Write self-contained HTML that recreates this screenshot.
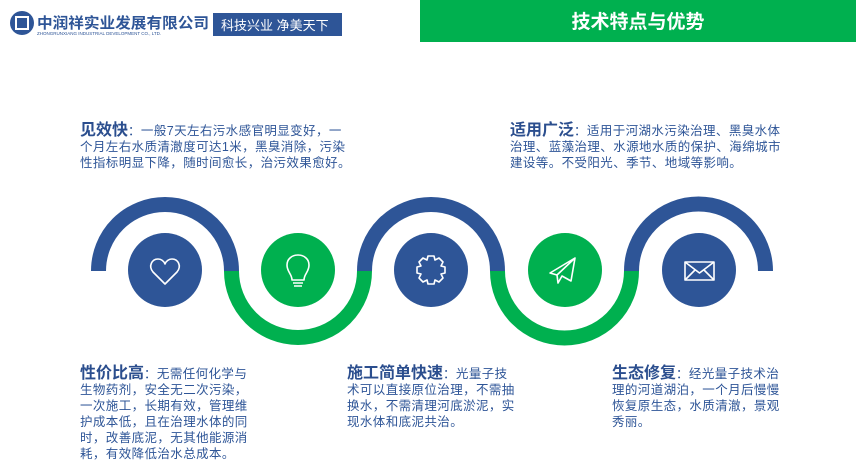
<!DOCTYPE html>
<html><head><meta charset="utf-8"><style>
body{margin:0;width:856px;height:473px;background:#fff;position:relative;overflow:hidden;font-family:"Liberation Sans","Noto Sans CJK SC",sans-serif;color:#2e5597}
.t{position:absolute;font-size:12.5px;letter-spacing:0.4px;line-height:16px;white-space:nowrap}
.t b{font-size:16px;letter-spacing:0;color:#2b4e8e;font-weight:bold}
</style></head><body>
<svg width="856" height="473" style="position:absolute;left:0;top:0">
<circle cx="22" cy="23" r="12" fill="#2e5597"/>
<rect x="16" y="17" width="12" height="12" fill="none" stroke="#fff" stroke-width="2"/>
<text x="37" y="28" font-family="Liberation Sans,Noto Sans CJK SC,sans-serif" font-weight="bold" font-size="15" fill="#2e5597" textLength="172" lengthAdjust="spacingAndGlyphs">中润祥实业发展有限公司</text>
<text x="37" y="35" font-family="Liberation Sans,sans-serif" font-size="4.5" fill="#2e5597">ZHONGRUNXIANG INDUSTRIAL DEVELOPMENT CO., LTD.</text>
<rect x="213" y="13" width="129" height="23" fill="#2e5597"/>
<text x="221" y="30" font-family="Liberation Sans,Noto Sans CJK SC,sans-serif" font-size="13" fill="#fff">科技兴业  净美天下</text>
<rect x="420" y="0" width="436" height="42" fill="#00b04f"/>
<text x="638" y="28" text-anchor="middle" font-family="Liberation Sans,Noto Sans CJK SC,sans-serif" font-weight="bold" font-size="19" fill="#fff">技术特点与优势</text>
<g fill="none" stroke-width="15">
<path d="M98.5 271 A66.5 66.5 0 0 1 231.5 271" stroke="#2e5597"/>
<path d="M231.5 271 A66.5 66.5 0 0 0 364.5 271" stroke="#00b04f"/>
<path d="M364.5 271 A66.5 66.5 0 0 1 497.5 271" stroke="#2e5597"/>
<path d="M497.5 271 A67 67 0 0 0 631.5 271" stroke="#00b04f"/>
<path d="M631.5 271 A67 67 0 0 1 765.5 271" stroke="#2e5597"/>
</g>
<circle cx="165" cy="270" r="37" fill="#2e5597"/>
<circle cx="298" cy="270" r="37" fill="#00b04f"/>
<circle cx="431" cy="270" r="37" fill="#2e5597"/>
<circle cx="565" cy="270" r="37" fill="#00b04f"/>
<circle cx="699" cy="270" r="37" fill="#2e5597"/>
<g fill="none" stroke="#fff" stroke-width="1.6" stroke-linejoin="round">
<path d="M165 284 L153 272 C148 266 152 259 158 259 C161 259 164 261 165 264 C166 261 169 259 172 259 C178 259 182 266 177 272 Z"/>
<path d="M292 280 C292 274 287 272 287 265 C287 259 292 255 298 255 C304 255 309 259 309 265 C309 272 304 274 304 280 Z M293 283 H303 M294 286 H302"/>
<path d="M428 256 H434 L435 260 L439 258 L443 262 L441 266 L445 267 V273 L441 274 L443 278 L439 282 L435 280 L434 284 H428 L427 280 L423 282 L419 278 L421 274 L417 273 V267 L421 266 L419 262 L423 258 L427 260 Z"/>
<path d="M550 273 L575 258 L571 281 L562 276 L558 283 L557 275 Z M557 275 L575 258"/>
<rect x="685" y="262" width="29" height="18"/>
<path d="M685 262 L699.5 273 L714 262 M685 280 L695 270 M714 280 L704 270"/>
</g>
</svg>
<div class="t" style="left:80px;top:123px"><b>见效快</b>：一般7天左右污水感官明显变好，一<br>个月左右水质清澈度可达1米，黑臭消除，污染<br>性指标明显下降，随时间愈长，治污效果愈好。</div>
<div class="t" style="left:510px;top:123px"><b>适用广泛</b>：适用于河湖水污染治理、黑臭水体<br>治理、蓝藻治理、水源地水质的保护、海绵城市<br>建设等。不受阳光、季节、地域等影响。</div>
<div class="t" style="left:80px;top:366px"><b>性价比高</b>：无需任何化学与<br>生物药剂，安全无二次污染，<br>一次施工，长期有效，管理维<br>护成本低，且在治理水体的同<br>时，改善底泥，无其他能源消<br>耗，有效降低治水总成本。</div>
<div class="t" style="left:347px;top:366px"><b>施工简单快速</b>：光量子技<br>术可以直接原位治理，不需抽<br>换水，不需清理河底淤泥，实<br>现水体和底泥共治。</div>
<div class="t" style="left:612px;top:366px"><b>生态修复</b>：经光量子技术治<br>理的河道湖泊，一个月后慢慢<br>恢复原生态，水质清澈，景观<br>秀丽。</div>
</body></html>
